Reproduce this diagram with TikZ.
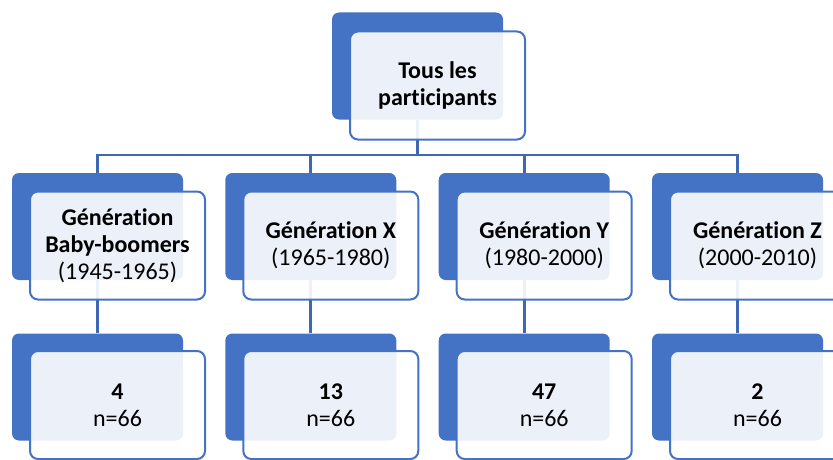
\documentclass[tikz,border=0pt]{standalone}
\usepackage{fontspec}
\setmainfont{Carlito}[Ligatures={NoCommon}]
\definecolor{bl}{HTML}{4472C4}
\definecolor{cn}{HTML}{3F67B2}
\begin{document}
\begin{tikzpicture}[x=1pt,y=-1pt,
 back/.style={fill=bl, rounded corners=7pt, minimum width=171pt, minimum height=107pt, inner sep=0pt, draw=none},
 front/.style={fill=white, fill opacity=0.9, text opacity=1, draw=bl, line width=2pt, rounded corners=8pt, minimum width=175pt, minimum height=108pt, align=center, font=\fontsize{24}{27}\selectfont, inner sep=0pt},
 conn/.style={draw=cn, line width=2.7pt}]
\useasboundingbox (0,0) rectangle (833,460);
\clip (0,0) rectangle (833,460);
% back rectangles
\node[back] (tb) at (417.5,66) {};
\node[back] (g1b) at (97.5,226.5) {};
\node[back] (g2b) at (310.8,226.5) {};
\node[back] (g3b) at (524.2,226.5) {};
\node[back] (g4b) at (737.5,226.5) {};
\node[back] (n1b) at (97.5,387) {};
\node[back] (n2b) at (310.8,387) {};
\node[back] (n3b) at (524.2,387) {};
\node[back] (n4b) at (737.5,387) {};
% connectors
\coordinate (bar) at (417.5,155);
\draw[conn] (tb.south) -- (bar);
\draw[conn] (g1b.north) |- (bar) -| (g4b.north);
\draw[conn] (g2b.north) -- (g2b.north |- bar);
\draw[conn] (g3b.north) -- (g3b.north |- bar);
\draw[conn] (g1b.south) -- (n1b.north);
\draw[conn] (g2b.south) -- (n2b.north);
\draw[conn] (g3b.south) -- (n3b.north);
\draw[conn] (g4b.south) -- (n4b.north);
% front boxes
\node[front] (t) at (437.5,85.5) {\bfseries Tous les\\\bfseries participants};
\node[front] (g1) at (117.5,245.5) {\bfseries Génération\\\bfseries Baby-boomers\\(1945-1965)};
\node[front] (g2) at (330.8,245.5) {\bfseries Génération X\\(1965-1980)};
\node[front] (g3) at (544.2,245.5) {\bfseries Génération Y\\(1980-2000)};
\node[front] (g4) at (757.5,245.5) {\bfseries Génération Z\\(2000-2010)};
\node[front] (n1) at (117.5,405) {\bfseries 4\\n=66};
\node[front] (n2) at (330.8,405) {\bfseries 13\\n=66};
\node[front] (n3) at (544.2,405) {\bfseries 47\\n=66};
\node[front] (n4) at (757.5,405) {\bfseries 2\\n=66};
\end{tikzpicture}
\end{document}
